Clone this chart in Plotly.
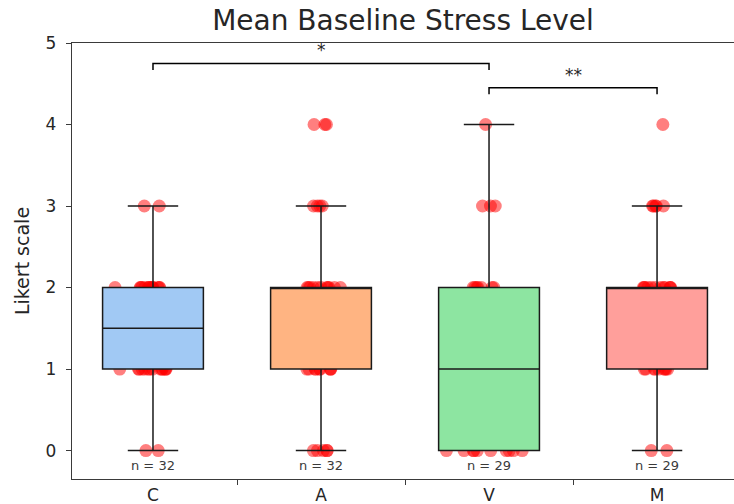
import numpy as np
import plotly.graph_objects as go

# Likert responses (0-4) tallied per group
groups = ["C", "A", "V", "M"]
likert_levels = [0, 1, 2, 3, 4]
counts_C = [2, 14, 14, 2, 0]
counts_A = [5, 9, 11, 4, 3]
counts_V = [10, 8, 7, 3, 1]
counts_M = [2, 9, 12, 5, 1]
box_colors = ["#a1c9f4", "#ffb482", "#8de5a1", "#ff9f9b"]
y_ticks = [0, 1, 2, 3, 4, 5]

# pairwise significance annotations: (group a, group b, stars)
comparisons = [("C", "V", "*"), ("V", "M", "**")]
bracket_levels = [4.75, 4.45]

counts = dict(zip(groups, [counts_C, counts_A, counts_V, counts_M]))
responses = {g: np.repeat(likert_levels, counts[g]) for g in groups}


def box_stats(v):
    q1, med, q3 = np.percentile(v, [25, 50, 75])
    iqr = q3 - q1
    lo = v[v >= q1 - 1.5 * iqr].min()
    hi = v[v <= q3 + 1.5 * iqr].max()
    return q1, med, q3, lo, hi


TEXT = "#262626"
AXIS = "#3a3a3a"
FONT = "DejaVu Sans"

fig = go.Figure()

# jittered individual responses, drawn first so the boxes sit on top
pts_x = np.concatenate([[g] * len(responses[g]) for g in groups])
pts_y = np.concatenate([responses[g] for g in groups])
fig.add_trace(go.Box(
    x=pts_x, y=pts_y, boxpoints="all", jitter=0.9, pointpos=0, width=0.6,
    fillcolor="rgba(0,0,0,0)", line=dict(width=0, color="rgba(0,0,0,0)"),
    marker=dict(color="red", opacity=0.5, size=13),
    showlegend=False, hoverinfo="skip",
))

for g, col in zip(groups, box_colors):
    q1, med, q3, lo, hi = box_stats(responses[g])
    fig.add_trace(go.Box(
        x=[g], q1=[q1], median=[med], q3=[q3], lowerfence=[lo], upperfence=[hi],
        width=0.6, whiskerwidth=0.5, fillcolor=col,
        line=dict(color="#1a1a1a", width=1.5),
        boxpoints=False, showlegend=False,
    ))

# sample size under each box
for g in groups:
    fig.add_annotation(
        x=g, y=-0.18, text=f"n = {len(responses[g])}", showarrow=False,
        font=dict(family=FONT, size=13, color="#3a3a3a"),
        xanchor="center", yanchor="middle",
    )

# significance brackets
for (a, b, stars), level in zip(comparisons, bracket_levels):
    fig.add_trace(go.Scatter(
        x=[a, a, b, b], y=[level - 0.08, level, level, level - 0.08],
        mode="lines", line=dict(color="black", width=1.5),
        showlegend=False, hoverinfo="skip",
    ))
    mid = (groups.index(a) + groups.index(b)) / 2
    fig.add_annotation(
        x=mid, y=level + 0.16, text=stars, showarrow=False,
        font=dict(family=FONT, size=17, color=TEXT),
        xanchor="center", yanchor="middle",
    )

fig.update_layout(
    width=734, height=504,
    margin=dict(l=72, r=0, t=43, b=25),
    plot_bgcolor="white", paper_bgcolor="white",
    boxmode="overlay",
    font=dict(family=FONT, color=TEXT),
    title=dict(
        text="Mean Baseline Stress Level", x=0.5, xref="paper", xanchor="center",
        y=1 - 20 / 504, yref="container", yanchor="middle",
        font=dict(family=FONT, size=28, color=TEXT),
    ),
    xaxis=dict(
        type="category", categoryorder="array", categoryarray=groups,
        range=[-0.482, 3.458], tickson="boundaries",
        ticks="outside", ticklen=5, tickcolor=AXIS, tickwidth=1.3,
        showline=True, linecolor=AXIS, linewidth=1.3, mirror=True,
        showgrid=False, zeroline=False,
        tickfont=dict(family=FONT, size=17, color=TEXT), automargin=False,
    ),
    yaxis=dict(
        range=[-0.349, 5.0], tickvals=y_ticks,
        ticks="outside", ticklen=5, tickcolor=AXIS, tickwidth=1.3,
        showline=True, linecolor=AXIS, linewidth=1.3,
        showgrid=False, zeroline=False, ticklabelstandoff=6,
        tickfont=dict(family=FONT, size=17, color=TEXT), automargin=False,
        title=dict(text="Likert scale", standoff=10,
                   font=dict(family=FONT, size=19, color=TEXT)),
    ),
)

fig.write_html("out.html")
